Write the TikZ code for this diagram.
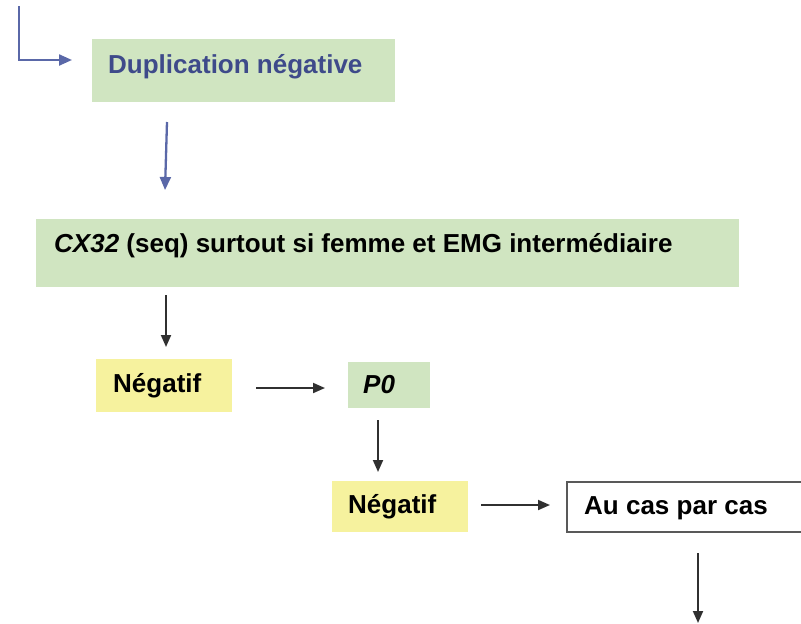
\documentclass[tikz,border=0pt]{standalone}
\usepackage{fontspec}
\setmainfont{Liberation Sans}
\usetikzlibrary{arrows.meta}
\definecolor{boxgreen}{HTML}{D0E5C1}
\definecolor{boxyellow}{HTML}{F6F29E}
\definecolor{bluetext}{HTML}{3E4A8A}
\definecolor{bluearrow}{HTML}{5A68A8}
\definecolor{darkline}{HTML}{303030}
\tikzset{
  box/.style={rectangle, anchor=north west, inner sep=0pt, outer sep=0pt},
  greenbox/.style={box, fill=boxgreen},
  yellowbox/.style={box, fill=boxyellow},
  whitebox/.style={box, fill=white, draw=darkline!80, line width=1.5pt},
  lbl/.style={anchor=base west, inner sep=0pt, font=\fontsize{26}{30}\selectfont\bfseries},
  barrow/.style={draw=bluearrow, line width=2.3pt, -{Triangle[length=13pt,width=11pt]}, bluearrow},
  karrow/.style={draw=darkline, line width=1.9pt, -{Triangle[length=12pt,width=10pt]}, darkline}
}
\begin{document}
\begin{tikzpicture}[x=1pt,y=-1pt]
\useasboundingbox (0,0) rectangle (801,624);
% boxes
\node[greenbox, minimum width=303pt, minimum height=63pt] (dup) at (92,39) {};
\node[greenbox, minimum width=703pt, minimum height=68pt] (cx) at (36,219) {};
\node[yellowbox, minimum width=136pt, minimum height=53pt] (neg1) at (96,359) {};
\node[greenbox, minimum width=82pt, minimum height=46pt] (p0) at (348,362) {};
\node[yellowbox, minimum width=136pt, minimum height=51pt] (neg2) at (332,481) {};
\node[whitebox, minimum width=260pt, minimum height=50pt] (au) at (567,482) {};
% labels
\node[lbl, text=bluetext] (dupt) at (108,73) {Duplication négative};
\node[lbl, text=black] (cxt) at (54,252) {\textit{CX32} (seq) surtout si femme et EMG intermédiaire};
\node[lbl, text=black] (n1t) at (113,392) {Négatif};
\node[lbl, text=black] (p0t) at (363,393) {\textit{P0}};
\node[lbl, text=black] (n2t) at (348,513) {Négatif};
\node[lbl, text=black] (aut) at (584,514) {Au cas par cas};
% free ends
\coordinate (src) at (19,6);
\coordinate (out) at (698,623);
% connectors
\draw[barrow] (src) |- ([xshift=-20pt,yshift=10.5pt]dup.west);
\draw[barrow] ([xshift=75pt,yshift=-20pt]dup.south west) -- ([xshift=129pt,yshift=29pt]cx.north west);
\draw[karrow] ([xshift=130pt,yshift=-8pt]cx.south west) -- ([xshift=70pt,yshift=12pt]neg1.north west);
\draw[karrow] ([xshift=24pt,yshift=-2.5pt]neg1.east) -- ([xshift=-23pt,yshift=-3pt]p0.west);
\draw[karrow] ([xshift=30pt,yshift=-12pt]p0.south west) -- ([xshift=46pt,yshift=9pt]neg2.north west);
\draw[karrow] ([xshift=13pt,yshift=1.5pt]neg2.east) -- ([xshift=-17pt,yshift=2pt]au.west);
\draw[karrow] ([xshift=131pt,yshift=-21pt]au.south west) -- (out);
\end{tikzpicture}
\end{document}
